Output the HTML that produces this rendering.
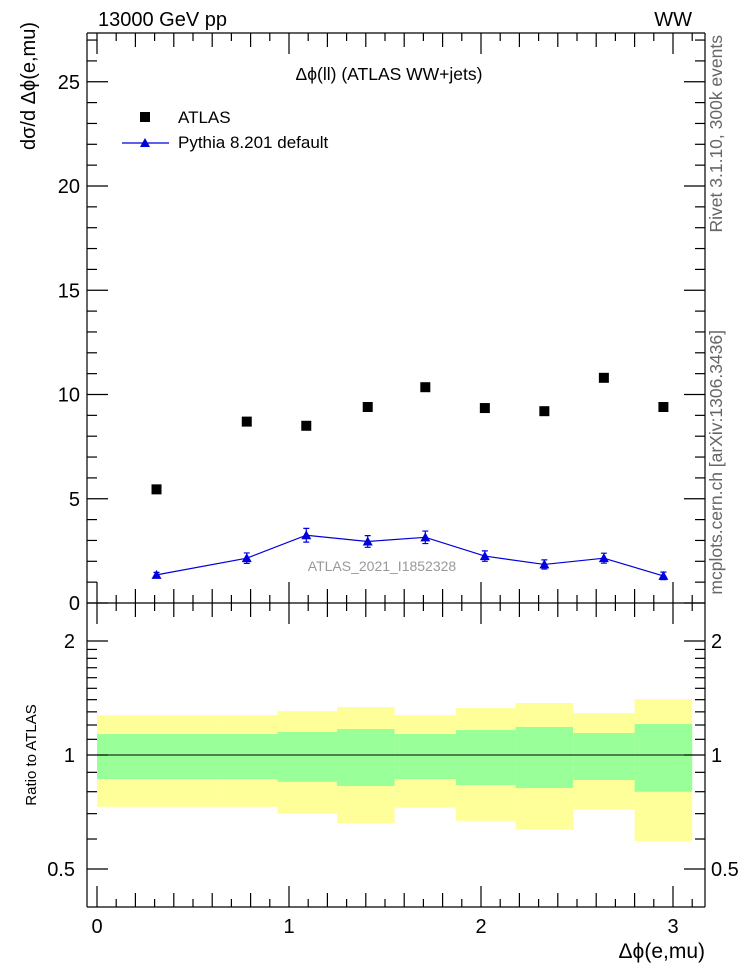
<!DOCTYPE html>
<html><head><meta charset="utf-8"><style>
html,body{margin:0;padding:0;background:#fff;}
svg{display:block;font-family:"Liberation Sans",sans-serif;}
</style></head><body>
<svg id="chart" width="746" height="972" viewBox="0 0 746 972">
<g id="ratio-bands"></g>
<g id="marks"></g>
<g id="axes"></g>
<text x="98" y="26" font-size="20">13000 GeV pp</text>
<text x="692" y="26" font-size="20" text-anchor="end">WW</text>
<text x="389" y="80" font-size="17.5" text-anchor="middle">Δϕ(ll) (ATLAS WW+jets)</text>
<rect x="140" y="112" width="10" height="10" fill="#000"/>
<text x="178" y="123" font-size="17">ATLAS</text>
<line x1="122" y1="143" x2="169" y2="143" stroke="#0000dd" stroke-width="1.2"/>
<polygon points="145,138 140,147 150,147" fill="#0000dd"/>
<text x="178" y="148" font-size="17">Pythia 8.201 default</text>
<text x="382" y="571" font-size="14" fill="#999" text-anchor="middle">ATLAS_2021_I1852328</text>
<text transform="translate(35,22) rotate(-90)" font-size="20" text-anchor="end">dσ/d Δϕ(e,mu)</text>
<text transform="translate(36,755) rotate(-90)" font-size="15" text-anchor="middle">Ratio to ATLAS</text>
<text x="705" y="958" font-size="21" text-anchor="end">Δϕ(e,mu)</text>
<text transform="translate(722,35) rotate(-90)" font-size="17.5" fill="#666" text-anchor="end">Rivet 3.1.10,  300k events</text>
<text transform="translate(722,330) rotate(-90)" font-size="17.5" fill="#666" text-anchor="end">mcplots.cern.ch [arXiv:1306.3436]</text>
</svg>
<script>
const centers=[0.31,0.78,1.09,1.41,1.71,2.02,2.33,2.64,2.95];
const edges=[0,0.63,0.94,1.25,1.55,1.87,2.18,2.48,2.80,3.10];
const atlasVals=[5.45,8.7,8.5,9.4,10.35,9.35,9.2,10.8,9.4];
const pythiaVals=[1.35,2.15,3.25,2.95,3.15,2.25,1.85,2.15,1.3];
const pythiaErr=[0.12,0.25,0.33,0.28,0.3,0.25,0.22,0.24,0.18];
const greenHi=[1.136,1.136,1.15,1.171,1.136,1.164,1.186,1.143,1.207];
const greenLo=[0.864,0.864,0.85,0.828,0.864,0.833,0.818,0.859,0.8];
const yellowHi=[1.275,1.275,1.306,1.339,1.275,1.33,1.372,1.29,1.405];
const yellowLo=[0.73,0.73,0.70,0.661,0.726,0.67,0.635,0.717,0.593];
const yTicks=[0,5,10,15,20,25];
const rTicks=[0.5,1,2];
const xTicks=[0,1,2,3];

const NS="http://www.w3.org/2000/svg";
const X=v=>97+v*192;
const Y=v=>603-v*20.85;
const R=v=>755-Math.log2(v)*114;
const L=87,Rt=705,T=33,M=603,B=907;
function mk(tag,attrs,parent){const e=document.createElementNS(NS,tag);for(const k in attrs)e.setAttribute(k,attrs[k]);document.getElementById(parent).appendChild(e);return e;}

for(let i=0;i<centers.length;i++){
  const x1=X(edges[i]),x2=X(edges[i+1]);
  const y=mk('rect',{x:x1,y:R(yellowHi[i]),width:x2-x1,height:R(yellowLo[i])-R(yellowHi[i]),fill:'#ffff99'},'ratio-bands');
  
  
  const g=mk('rect',{x:x1,y:R(greenHi[i]),width:x2-x1,height:R(greenLo[i])-R(greenHi[i]),fill:'#99ff99'},'ratio-bands');
  
  
}
const one=mk('line',{x1:L,x2:Rt,y1:R(1),y2:R(1),stroke:'#000','stroke-width':1},'ratio-bands');



const pts=centers.map((c,i)=>X(c)+','+Y(pythiaVals[i])).join(' ');
const pl=mk('polyline',{points:pts,fill:'none',stroke:'#0000dd','stroke-width':1.2},'marks');


centers.forEach((c,i)=>{
  const x=X(c);
  const a=mk('rect',{x:x-5,y:Y(atlasVals[i])-5,width:10,height:10,fill:'#000'},'marks');
  
  
  const y=Y(pythiaVals[i]),yh=Y(pythiaVals[i]+pythiaErr[i]),yl=Y(pythiaVals[i]-pythiaErr[i]);
  const e=mk('path',{d:`M${x},${yh}V${yl}M${x-3},${yh}H${x+3}M${x-3},${yl}H${x+3}`,stroke:'#0000dd','stroke-width':1.2,fill:'none'},'marks');
  
  
  const p=mk('polygon',{points:`${x},${y-5} ${x-5},${y+4} ${x+5},${y+4}`,fill:'#0000dd'},'marks');
  
  
});

function line(x1,y1,x2,y2,name){const l=mk('line',{x1,y1,x2,y2,stroke:'#000','stroke-width':1.2},'axes');}
function text(x,y,s,anchor,name){const t=mk('text',{x,y,'font-size':20,'text-anchor':anchor},'axes');t.textContent=s;}
[[L,T,Rt,T],[L,T,L,M],[Rt,T,Rt,M],[L,M,Rt,M],[L,M,L,B],[Rt,M,Rt,B],[L,B,Rt,B]].forEach(s=>line(...s,'frame-edge'));
for(let v=0;v<=27;v++){const y=Y(v);const len=v%5===0?21:10;line(L,y,L+len,y,'y-tick');line(Rt,y,Rt-len,y,'y-tick');}
yTicks.forEach(v=>text(80,Y(v)+7,String(v),'end','y-tick-label'));
[0.5,0.6,0.7,0.8,0.9,1,1.1,1.2,1.3,1.4,1.5,1.6,1.7,1.8,1.9,2].forEach(v=>{const y=R(v);const len=rTicks.includes(v)?21:10;line(L,y,L+len,y,'ratio-y-tick');line(Rt,y,Rt-len,y,'ratio-y-tick');});
rTicks.forEach(v=>{text(75,R(v)+7,String(v),'end','ratio-y-tick-label');text(711,R(v)+7,String(v),'start','ratio-y-tick-label-right');});
for(let k=0;k<=31;k++){const v=k/10;const x=X(v);if(x>Rt)break;const len=k%10===0?21:(k%2===0?14:8);
  line(x,T,x,T+len,'x-tick');line(x,M,x,M-len,'x-tick');line(x,M,x,M+len,'x-tick');line(x,B,x,B-len,'x-tick');}
xTicks.forEach(v=>text(X(v),933,String(v),'middle','x-tick-label'));
</script>
</body></html>
